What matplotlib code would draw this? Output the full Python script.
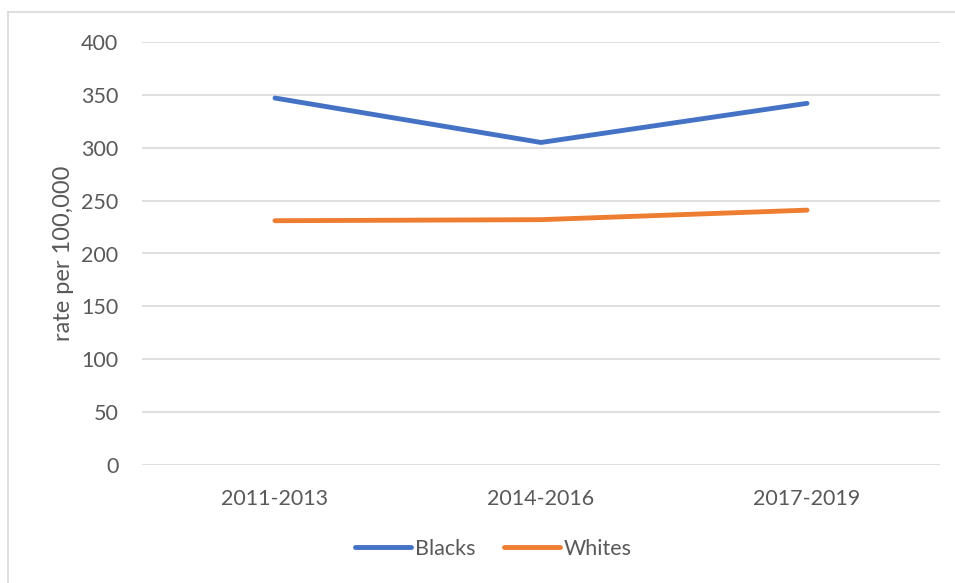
import matplotlib
matplotlib.use('Agg')
import matplotlib.pyplot as plt
from matplotlib.lines import Line2D

plt.rcParams['font.family'] = ['Lato', 'DejaVu Sans']

# ── DATA ──
periods = ['2011-2013', '2014-2016', '2017-2019']
blacks = [347, 305, 342]
whites = [231, 232, 241]
yticks = [0, 50, 100, 150, 200, 250, 300, 350, 400]

text_col = '#595959'
grid_col = '#d9d9d9'

fig = plt.figure(figsize=(9.55, 5.83), dpi=100)
ax = fig.add_axes([142/955, 118/583, 798/955, 423/583])

x = range(len(periods))
ax.plot(x, blacks, color='#4472c4', lw=3.5, solid_capstyle='round',
        label='Blacks')
ax.plot(x, whites, color='#ed7d31', lw=3.5, solid_capstyle='round',
        label='Whites')

ax.set_xlim(-0.5, len(periods) - 0.5)
ax.set_ylim(0, 400)
ax.set_yticks(yticks)
ax.set_xticks(list(x))
ax.set_xticklabels(periods)
ax.grid(axis='y', color=grid_col, lw=1.2)
ax.set_axisbelow(True)
for s in ax.spines.values():
    s.set_visible(False)
ax.tick_params(length=0, labelsize=15.5, colors=text_col)
ax.tick_params(axis='y', pad=17)
ax.tick_params(axis='x', pad=17)
ax.set_ylabel('rate per 100,000', fontsize=17, color=text_col, labelpad=5)

fig.legend(handles=[Line2D([], [], color='#4472c4', lw=3.5, solid_capstyle='round'),
                    Line2D([], [], color='#ed7d31', lw=3.5, solid_capstyle='round')],
           labels=['Blacks', 'Whites'], loc='center',
           bbox_to_anchor=(0.5 + 16/955, 1 - 549/583),
           ncol=2, frameon=False, fontsize=15.5, labelcolor=text_col,
           handlelength=2.6, handletextpad=0.2, columnspacing=1.3)

# outer chart border (top and left visible)
fig.add_artist(Line2D([8/955, 1], [1 - 12/583, 1 - 12/583], color=grid_col, lw=1.2))
fig.add_artist(Line2D([8/955, 8/955], [0, 1 - 12/583], color=grid_col, lw=1.2))

plt.savefig('out.png', dpi=100)
